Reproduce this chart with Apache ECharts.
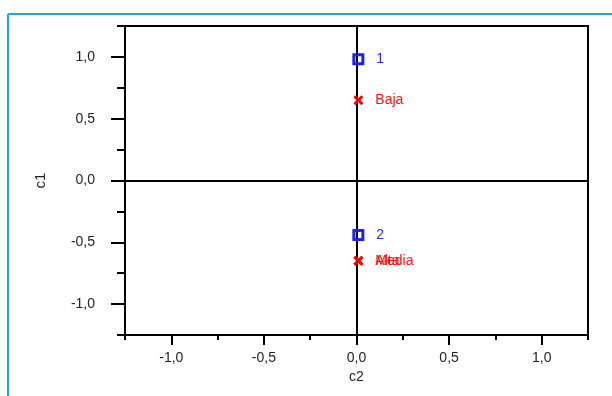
<!DOCTYPE html>
<html><head><meta charset="utf-8">
<script src="https://cdn.jsdelivr.net/npm/echarts@6/dist/echarts.min.js"></script>
<style>html,body{margin:0;padding:0;background:#fff}#c{width:612px;height:396px}</style>
</head><body><div id="c"></div>
<script>
// Data
const rowLabels = ['1', '2'];
const rowC2 = [0.01, 0.01];
const rowC1 = [0.98, -0.44];
const colLabels = ['Baja', 'Alta', 'Media'];
const colC2 = [0.01, 0.01, 0.01];
const colC1 = [0.65, -0.65, -0.65];
const majorTicks = [-1.0, -0.5, 0.0, 0.5, 1.0];
const axisMin = -1.25, axisMax = 1.25;

const fmt = v => v.toFixed(1).replace('.', ',');
const font = 'Liberation Sans, Arial, sans-serif';
const xPath = 'path://M0,2L2,0L5,3L8,0L10,2L7,5L10,8L8,10L5,7L2,10L0,8L3,5Z';

const chart = echarts.init(document.getElementById('c'), null, {renderer: 'canvas'});
const minorAxis = (pos, len) => ({
  type: 'value', min: axisMin, max: axisMax, interval: 0.25, position: pos,
  axisLine: {show: false, onZero: false}, splitLine: {show: false}, axisLabel: {show: false},
  axisTick: {show: true, length: len, lineStyle: {color: '#000', width: 2}}
});
chart.setOption({
  animation: false,
  graphic: [
    {type: 'line', shape: {x1: 8, y1: 14, x2: 8, y2: 396}, style: {stroke: '#22a7e6', lineWidth: 2}},
    {type: 'line', shape: {x1: 8, y1: 14, x2: 612, y2: 14}, style: {stroke: '#22a7e6', lineWidth: 2}}
  ],
  grid: {left: 125, right: 24, top: 26, bottom: 61, show: true, borderColor: '#000', borderWidth: 2, backgroundColor: 'transparent'},
  xAxis: [{
    type: 'value', min: axisMin, max: axisMax, position: 'bottom',
    name: 'c2', nameLocation: 'middle', nameGap: 35,
    nameTextStyle: {fontFamily: font, fontSize: 14, color: '#222'},
    axisLine: {show: true, onZero: false, lineStyle: {color: '#000', width: 2}},
    axisTick: {show: true, customValues: majorTicks, length: 10, lineStyle: {color: '#000', width: 2}},
    axisLabel: {customValues: majorTicks, formatter: fmt, margin: 16, fontFamily: font, fontSize: 14, color: '#222'},
    splitLine: {show: false}
  }, minorAxis('bottom', 5)],
  yAxis: [{
    type: 'value', min: axisMin, max: axisMax, position: 'left',
    name: 'c1', nameLocation: 'middle', nameGap: 77, nameRotate: 90,
    nameTextStyle: {fontFamily: font, fontSize: 15, color: '#222'},
    axisLine: {show: true, onZero: false, lineStyle: {color: '#000', width: 2}},
    axisTick: {show: true, customValues: majorTicks, length: 14, lineStyle: {color: '#000', width: 2}},
    axisLabel: {customValues: majorTicks, formatter: fmt, margin: 30, padding: [4, 0, 0, 0], fontFamily: font, fontSize: 14, color: '#222'},
    splitLine: {show: false}
  }, minorAxis('left', 8)],
  series: [{
    type: 'scatter', name: 'rows', xAxisIndex: 0, yAxisIndex: 0,
    data: rowC2.map((x, i) => ({value: [x, rowC1[i]], name: rowLabels[i]})),
    symbol: 'rect', symbolSize: 9,
    itemStyle: {color: 'rgba(255,255,255,0)', borderColor: '#2020f0', borderWidth: 3, opacity: 1},
    label: {show: true, position: 'right', distance: 12, formatter: p => p.name, fontFamily: font, fontSize: 14, color: '#2a2aff'},
    z: 5,
    markLine: {
      silent: true, symbol: 'none', label: {show: false},
      lineStyle: {color: '#000', width: 2, type: 'solid'},
      data: [{xAxis: 0}, {yAxis: 0}]
    }
  }, {
    type: 'scatter', name: 'cols', xAxisIndex: 0, yAxisIndex: 0,
    data: colC2.map((x, i) => ({value: [x, colC1[i]], name: colLabels[i]})),
    symbol: xPath, symbolSize: 10,
    itemStyle: {color: '#ff0000', opacity: 1},
    label: {show: true, position: 'right', distance: 12, formatter: p => p.name, fontFamily: font, fontSize: 14, color: '#ff1010'},
    labelLayout: {hideOverlap: false},
    z: 5
  }]
});
</script></body></html>
